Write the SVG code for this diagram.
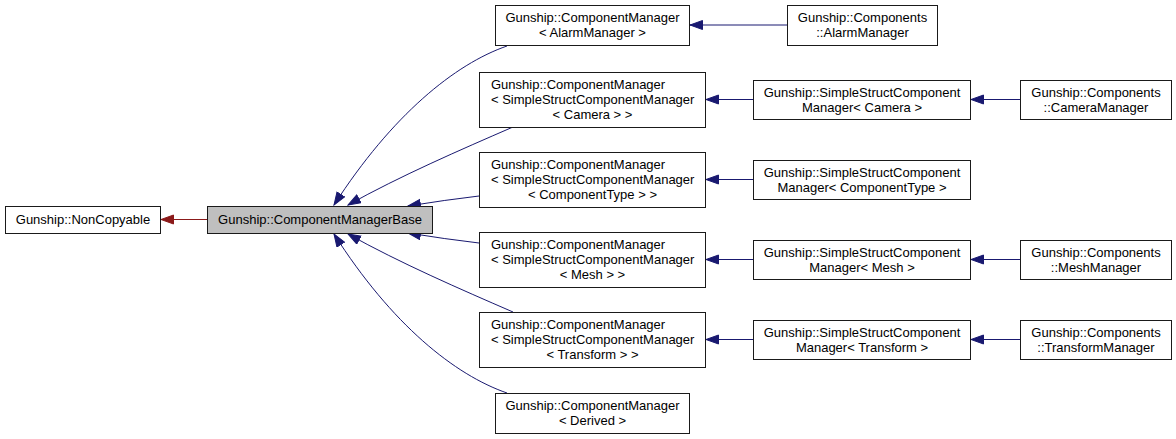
<svg xmlns="http://www.w3.org/2000/svg" width="1176" height="439" viewBox="0 0 1176 439">
<style>
.n rect{fill:#fff;stroke:#1a1a1a;stroke-width:1}
.n rect.hl{fill:#bfbfbf}
text{font-family:"Liberation Sans",Arial,sans-serif;font-size:13px;fill:#000}
.c{text-anchor:middle}
.e{fill:none;stroke:#191970;stroke-width:1;marker-end:url(#ab)}
.r{fill:none;stroke:#8b1a1a;stroke-width:1;marker-end:url(#ar)}
</style>
<defs>
<marker id="ab" markerUnits="userSpaceOnUse" markerWidth="14" markerHeight="11" refX="13" refY="5" orient="auto"><path d="M0.5,0.5 L13,5 L0.5,9.5 z" fill="#191970" stroke="#191970"/></marker>
<marker id="ar" markerUnits="userSpaceOnUse" markerWidth="14" markerHeight="11" refX="13" refY="5" orient="auto"><path d="M0.5,0.5 L13,5 L0.5,9.5 z" fill="#8b1a1a" stroke="#8b1a1a"/></marker>
</defs>
<rect width="1176" height="439" fill="#fff"/>
<g id="edges">
<path class="r" d="M207,219.5 L161,219.5"/>
<path class="e" d="M507,46 C455,64 392,115 334,205"/>
<path class="e" d="M513,127 C460,150 400,176 348,205"/>
<path class="e" d="M479,196 Q445,200 408,206"/>
<path class="e" d="M479,243 Q445,239 408,233"/>
<path class="e" d="M513,312 C460,289 400,263 348,234"/>
<path class="e" d="M507,393 C455,375 392,325 334,234"/>
<path class="e" d="M787,25 L690,25"/>
<path class="e" d="M753,99.5 L706,99.5"/>
<path class="e" d="M1020,99.5 L971,99.5"/>
<path class="e" d="M753,179.5 L706,179.5"/>
<path class="e" d="M753,259.5 L706,259.5"/>
<path class="e" d="M1020,259.5 L971,259.5"/>
<path class="e" d="M753,339.5 L706,339.5"/>
<path class="e" d="M1020,339.5 L971,339.5"/>
</g>
<g id="noncopyable" class="n"><rect x="5.5" y="206.5" width="155" height="27"/><text class="c" x="83" y="224">Gunship::NonCopyable</text></g>
<g id="cmbase" class="n"><rect class="hl" x="207.5" y="206.5" width="225" height="27"/><text class="c" x="320" y="224">Gunship::ComponentManagerBase</text></g>
<g id="cm_alarm" class="n"><rect x="495.5" y="5.5" width="194" height="40"/><text class="c" x="592.5" y="22">Gunship::ComponentManager</text><text class="c" x="592.5" y="37">&lt; AlarmManager &gt;</text></g>
<g id="alarm" class="n"><rect x="787.5" y="5.5" width="150" height="40"/><text class="c" x="862.5" y="22">Gunship::Components</text><text class="c" x="862.5" y="37">::AlarmManager</text></g>
<g id="cm_camera" class="n"><rect x="479.5" y="72.5" width="226" height="55"/><text x="491" y="89">Gunship::ComponentManager</text><text x="491" y="104">&lt; SimpleStructComponentManager</text><text class="c" x="592.5" y="119">&lt; Camera &gt; &gt;</text></g>
<g id="ss_camera" class="n"><rect x="753.5" y="80.5" width="217" height="39"/><text class="c" x="862" y="96.5">Gunship::SimpleStructComponent</text><text class="c" x="862" y="111.5">Manager&lt; Camera &gt;</text></g>
<g id="camera" class="n"><rect x="1020.5" y="80.5" width="151" height="39"/><text class="c" x="1096" y="96.5">Gunship::Components</text><text class="c" x="1096" y="111.5">::CameraManager</text></g>
<g id="cm_ctype" class="n"><rect x="479.5" y="152.5" width="226" height="55"/><text x="491" y="169">Gunship::ComponentManager</text><text x="491" y="184">&lt; SimpleStructComponentManager</text><text class="c" x="592.5" y="199">&lt; ComponentType &gt; &gt;</text></g>
<g id="ss_ctype" class="n"><rect x="753.5" y="160.5" width="217" height="39"/><text class="c" x="862" y="176.5">Gunship::SimpleStructComponent</text><text class="c" x="862" y="191.5">Manager&lt; ComponentType &gt;</text></g>
<g id="cm_mesh" class="n"><rect x="479.5" y="232.5" width="226" height="55"/><text x="491" y="249">Gunship::ComponentManager</text><text x="491" y="264">&lt; SimpleStructComponentManager</text><text class="c" x="592.5" y="279">&lt; Mesh &gt; &gt;</text></g>
<g id="ss_mesh" class="n"><rect x="753.5" y="240.5" width="217" height="39"/><text class="c" x="862" y="256.5">Gunship::SimpleStructComponent</text><text class="c" x="862" y="271.5">Manager&lt; Mesh &gt;</text></g>
<g id="mesh" class="n"><rect x="1020.5" y="240.5" width="151" height="39"/><text class="c" x="1096" y="256.5">Gunship::Components</text><text class="c" x="1096" y="271.5">::MeshManager</text></g>
<g id="cm_transform" class="n"><rect x="479.5" y="312.5" width="226" height="55"/><text x="491" y="329">Gunship::ComponentManager</text><text x="491" y="344">&lt; SimpleStructComponentManager</text><text class="c" x="592.5" y="359">&lt; Transform &gt; &gt;</text></g>
<g id="ss_transform" class="n"><rect x="753.5" y="320.5" width="217" height="39"/><text class="c" x="862" y="336.5">Gunship::SimpleStructComponent</text><text class="c" x="862" y="351.5">Manager&lt; Transform &gt;</text></g>
<g id="transform" class="n"><rect x="1020.5" y="320.5" width="151" height="39"/><text class="c" x="1096" y="336.5">Gunship::Components</text><text class="c" x="1096" y="351.5">::TransformManager</text></g>
<g id="cm_derived" class="n"><rect x="495.5" y="393.5" width="194" height="40"/><text class="c" x="592.5" y="410">Gunship::ComponentManager</text><text class="c" x="592.5" y="425">&lt; Derived &gt;</text></g>
</svg>
